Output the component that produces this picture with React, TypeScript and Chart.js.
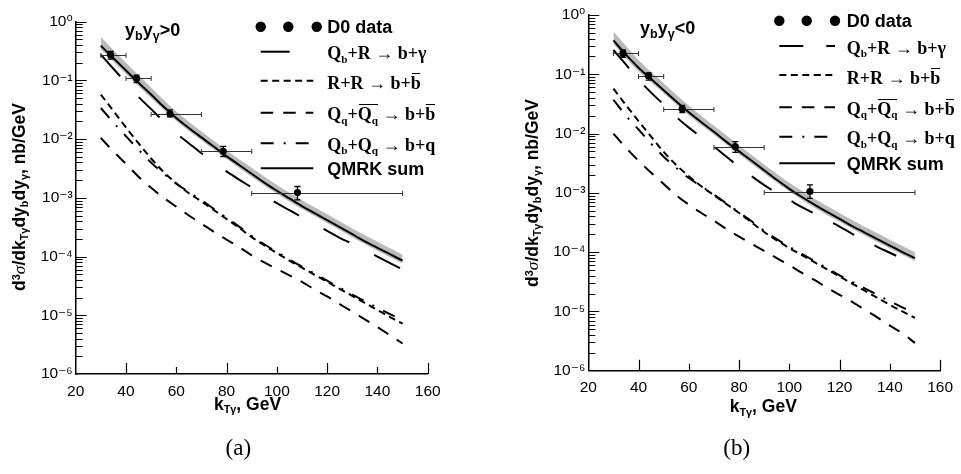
import React, { useEffect, useRef } from 'react';
import { Chart, registerables } from 'chart.js';

Chart.register(...registerables);

// ---------- shared axes ----------
const kGrid = [30, 35, 40, 45, 50, 55, 60, 65, 70, 75, 80, 85, 90, 95, 100, 105, 110, 115, 120, 125, 130, 135, 140, 145, 150];
const kBand = [30, 40, 50, 60, 70, 80, 90, 100, 110, 120, 130, 140, 150];
const xTickValues = [20, 40, 60, 80, 100, 120, 140, 160];
const xLongTicks = [40, 80, 120, 160];
const yDecades = [1e-6, 1e-5, 1e-4, 1e-3, 1e-2, 1e-1, 1];
const yTickLabels = ['10⁻⁶', '10⁻⁵', '10⁻⁴', '10⁻³', '10⁻²', '10⁻¹', '10⁰'];
const yMinorMultipliers = [2, 3, 4, 5, 6, 7, 8, 9];

// ---------- panel (a): y_b y_gamma > 0 ----------
const sumA = [0.389, 0.240, 0.148, 0.0912, 0.0575, 0.0355, 0.0229, 0.0155, 0.0107, 0.00741, 0.00513, 0.00363, 0.00257, 0.00182, 0.00132, 0.000977, 0.000724, 0.000550, 0.000417, 0.000316, 0.000240, 0.000182, 0.000141, 0.000110, 0.0000851];
const bandUpA = [0.550, 0.1995, 0.0759, 0.0295, 0.0135, 0.00646, 0.00324, 0.00166, 0.000912, 0.000525, 0.000302, 0.000178, 0.000107];
const bandLoA = [0.339, 0.129, 0.0501, 0.0204, 0.00955, 0.00457, 0.00229, 0.00117, 0.000646, 0.000372, 0.000214, 0.000126, 0.0000759];
const bgA = [0.275, 0.158, 0.0912, 0.0525, 0.0324, 0.0200, 0.0126, 0.00851, 0.00575, 0.00407, 0.00282, 0.00204, 0.00151, 0.00110, 0.000813, 0.000617, 0.000468, 0.000355, 0.000275, 0.000209, 0.000166, 0.000129, 0.000100, 0.0000776, 0.0000603];
const rrA = [0.0575, 0.0302, 0.0158, 0.00851, 0.00468, 0.00275, 0.00178, 0.00120, 0.000871, 0.000617, 0.000437, 0.000309, 0.000214, 0.000155, 0.000115, 0.0000851, 0.0000646, 0.0000490, 0.0000372, 0.0000282, 0.0000214, 0.0000162, 0.0000123, 0.00000933, 0.00000724];
const qqA = [0.0105, 0.00617, 0.00380, 0.00229, 0.00148, 0.00100, 0.000708, 0.000501, 0.000363, 0.000263, 0.000195, 0.000145, 0.000105, 0.0000794, 0.0000617, 0.0000479, 0.0000372, 0.0000275, 0.0000209, 0.0000155, 0.0000115, 0.00000851, 0.00000631, 0.00000457, 0.00000331];
const ddA = [0.0339, 0.0191, 0.0112, 0.00661, 0.00398, 0.00257, 0.00174, 0.00126, 0.000912, 0.000646, 0.000457, 0.000324, 0.000224, 0.000162, 0.000120, 0.0000891, 0.0000676, 0.0000513, 0.0000389, 0.0000295, 0.0000224, 0.0000174, 0.0000135, 0.0000105, 0.00000832];
const d0KA = [33.9, 44.2, 57.5, 78.7, 108.2];
const d0YA = [0.27, 0.108, 0.027, 0.0062, 0.00123];
const d0KLoA = [30, 40, 50, 70, 90];
const d0KHiA = [40, 50, 70, 90, 150];
const d0YLoA = [0.231, 0.092, 0.024, 0.00506, 0.000925];
const d0YHiA = [0.312, 0.123, 0.0316, 0.0075, 0.00156];

// ---------- panel (b): y_b y_gamma < 0 ----------
const sumB = [0.372, 0.214, 0.129, 0.0832, 0.0537, 0.0347, 0.0229, 0.0155, 0.0107, 0.00724, 0.00501, 0.00347, 0.00240, 0.00166, 0.00117, 0.000851, 0.000631, 0.000479, 0.000363, 0.000275, 0.000214, 0.000166, 0.000129, 0.000100, 0.0000794];
const bandUpB = [0.525, 0.174, 0.0708, 0.0295, 0.0135, 0.00631, 0.00302, 0.00148, 0.000794, 0.000457, 0.000269, 0.000162, 0.000100];
const bandLoB = [0.324, 0.112, 0.0479, 0.0204, 0.00955, 0.00447, 0.00214, 0.00105, 0.000562, 0.000324, 0.000191, 0.000115, 0.0000708];
const bgB = [0.257, 0.145, 0.0813, 0.0490, 0.0309, 0.0191, 0.0126, 0.00871, 0.00603, 0.00407, 0.00275, 0.00191, 0.00135, 0.00100, 0.000759, 0.000575, 0.000447, 0.000347, 0.000269, 0.000204, 0.000158, 0.000123, 0.0000977, 0.0000776, 0.0000617];
const rrB = [0.0575, 0.0302, 0.0162, 0.00891, 0.00490, 0.00295, 0.00191, 0.00129, 0.000912, 0.000646, 0.000457, 0.000316, 0.000219, 0.000158, 0.000117, 0.0000891, 0.0000676, 0.0000513, 0.0000389, 0.0000295, 0.0000224, 0.0000170, 0.0000129, 0.0000100, 0.00000776];
const qqB = [0.0100, 0.00575, 0.00347, 0.00219, 0.00141, 0.000912, 0.000631, 0.000457, 0.000339, 0.000245, 0.000182, 0.000138, 0.000105, 0.0000794, 0.0000603, 0.0000447, 0.0000339, 0.0000251, 0.0000191, 0.0000145, 0.0000107, 0.00000794, 0.00000575, 0.00000427, 0.00000295];
const ddB = [0.0372, 0.0200, 0.0117, 0.00676, 0.00407, 0.00263, 0.00178, 0.00129, 0.000933, 0.000661, 0.000468, 0.000331, 0.000229, 0.000166, 0.000123, 0.0000933, 0.0000708, 0.0000537, 0.0000407, 0.0000316, 0.0000245, 0.0000191, 0.0000148, 0.0000117, 0.00000933];
const d0KB = [33.8, 44.0, 57.4, 78.5, 108.2];
const d0YB = [0.225, 0.094, 0.026, 0.0060, 0.00105];
const d0KLoB = [30, 40, 50, 70, 90];
const d0KHiB = [40, 50, 70, 90, 150];
const d0YLoB = [0.193, 0.080, 0.0225, 0.0048, 0.00081];
const d0YHiB = [0.257, 0.106, 0.030, 0.0073, 0.00136];

const SANS = '"Liberation Sans", Arial, Helvetica, "DejaVu Sans", sans-serif';
const SERIF = '"Liberation Serif", "Times New Roman", Times, serif';

type PanelCfg = {
  left: number; width: number; padTop: number; padRight: number; yAxisWidth: number; xAxisHeight: number;
  sum: number[]; bandUp: number[]; bandLo: number[]; bg: number[]; rr: number[]; qq: number[]; dd: number[];
  dK: number[]; dY: number[]; dKLo: number[]; dKHi: number[]; dYLo: number[]; dYHi: number[];
  bgDash: number[];
};

const cfgA: PanelCfg = {
  left: 0, width: 480, padTop: 21.7, padRight: 52.3, yAxisWidth: 75.7, xAxisHeight: 100,
  sum: sumA, bandUp: bandUpA, bandLo: bandLoA, bg: bgA, rr: rrA, qq: qqA, dd: ddA,
  dK: d0KA, dY: d0YA, dKLo: d0KLoA, dKHi: d0KHiA, dYLo: d0YLoA, dYHi: d0YHiA,
  bgDash: [29, 28],
};
const cfgB: PanelCfg = {
  left: 480, width: 481, padTop: 15, padRight: 17, yAxisWidth: 108.3, xAxisHeight: 103.3,
  sum: sumB, bandUp: bandUpB, bandLo: bandLoB, bg: bgB, rr: rrB, qq: qqB, dd: ddB,
  dK: d0KB, dY: d0YB, dKLo: d0KLoB, dKHi: d0KHiB, dYLo: d0YLoB, dYHi: d0YHiB,
  bgDash: [24, 23],
};

const RR_DASH = [7, 4.5];
const QQ_DASH = [12.5, 10];
const DD_DASH = [13, 10, 2, 10];

function Panel({ cfg }: { cfg: PanelCfg }) {
  const ref = useRef<HTMLCanvasElement>(null);
  useEffect(() => {
    const canvas = ref.current as HTMLCanvasElement;
    const pts = (xs: number[], ys: number[]) => xs.map((x, i) => ({ x, y: ys[i] }));
    const line = (data: any, dash: number[], extra: any = {}) => ({
      type: 'line', data, borderColor: '#000', borderWidth: 2, borderDash: dash, pointRadius: 0,
      fill: false, cubicInterpolationMode: 'monotone', order: 2, ...extra,
    });
    const POINTS_INDEX = 7;
    const errorBars = {
      id: 'errorBars',
      beforeDatasetDraw(chart: any, args: any) {
        if (args.index !== POINTS_INDEX) return;
        const { ctx, scales: { x, y } } = chart;
        ctx.save();
        cfg.dK.forEach((k, i) => {
          const px = x.getPixelForValue(k);
          const py = Math.round(y.getPixelForValue(cfg.dY[i])) + 0.5;
          const x0 = x.getPixelForValue(cfg.dKLo[i]);
          const x1 = x.getPixelForValue(cfg.dKHi[i]);
          const y0 = y.getPixelForValue(cfg.dYLo[i]);
          const y1 = y.getPixelForValue(cfg.dYHi[i]);
          ctx.lineWidth = 1;
          ctx.strokeStyle = '#333';
          ctx.beginPath();
          ctx.moveTo(x0, py); ctx.lineTo(x1, py);
          ctx.moveTo(x0, py - 2.5); ctx.lineTo(x0, py + 2.5);
          ctx.moveTo(x1, py - 2.5); ctx.lineTo(x1, py + 2.5);
          ctx.stroke();
          ctx.strokeStyle = '#000';
          ctx.lineWidth = 1.3;
          ctx.beginPath();
          ctx.moveTo(px, y0); ctx.lineTo(px, y1);
          ctx.moveTo(px - 3, y0); ctx.lineTo(px + 3, y0);
          ctx.moveTo(px - 3, y1); ctx.lineTo(px + 3, y1);
          ctx.stroke();
        });
        ctx.restore();
      },
    };
    const inwardTicks = {
      id: 'inwardTicks',
      afterDraw(chart: any) {
        const { ctx, chartArea, scales: { x, y } } = chart;
        ctx.save();
        ctx.strokeStyle = '#000';
        ctx.lineWidth = 1.2;
        ctx.beginPath();
        xTickValues.forEach((v) => {
          if (v === 20) return;
          const px = Math.round(x.getPixelForValue(v)) + 0.5;
          const len = xLongTicks.includes(v) ? 11 : 7;
          ctx.moveTo(px, chartArea.bottom);
          ctx.lineTo(px, chartArea.bottom - len);
        });
        yDecades.forEach((d) => {
          const py = Math.round(y.getPixelForValue(d)) + 0.5;
          if (d !== 1e-6) {
            ctx.moveTo(chartArea.left, py);
            ctx.lineTo(chartArea.left + 11, py);
          }
          if (d < 1) {
            yMinorMultipliers.forEach((m) => {
              const pm = Math.round(y.getPixelForValue(d * m)) + 0.5;
              ctx.moveTo(chartArea.left, pm);
              ctx.lineTo(chartArea.left + 7, pm);
            });
          }
        });
        ctx.stroke();
        ctx.restore();
      },
    };
    const chart = new Chart(canvas, {
      type: 'line',
      data: {
        datasets: [
          { type: 'line', data: pts(kBand, cfg.bandUp), borderWidth: 0, borderColor: 'rgba(0,0,0,0)', backgroundColor: '#bababa', pointRadius: 0, fill: '+1', cubicInterpolationMode: 'monotone', order: 10 } as any,
          { type: 'line', data: pts(kBand, cfg.bandLo), borderWidth: 0, borderColor: 'rgba(0,0,0,0)', pointRadius: 0, fill: false, cubicInterpolationMode: 'monotone', order: 11 } as any,
          line(pts(kGrid, cfg.sum), [], { order: 1 }),
          line(pts(kGrid, cfg.bg), cfg.bgDash),
          line(pts(kGrid, cfg.rr), RR_DASH),
          line(pts(kGrid, cfg.qq), QQ_DASH),
          line(pts(kGrid, cfg.dd), DD_DASH),
          { type: 'line', data: pts(cfg.dK, cfg.dY), showLine: false, pointRadius: 3.6, pointBackgroundColor: '#000', pointBorderColor: '#000', pointBorderWidth: 0, order: 0 } as any,
        ],
      },
      options: {
        animation: false,
        responsive: false,
        maintainAspectRatio: false,
        layout: { padding: { left: 0, top: cfg.padTop, right: cfg.padRight, bottom: 0 } },
        plugins: { legend: { display: false }, tooltip: { enabled: false }, title: { display: false } },
        scales: {
          x: {
            type: 'linear', min: 20, max: 160,
            afterFit: (s: any) => { s.height = cfg.xAxisHeight; },
            afterBuildTicks: (s: any) => { s.ticks = xTickValues.map((v) => ({ value: v })); },
            grid: { display: false, drawTicks: false },
            border: { display: true, color: '#000', width: 1.5 },
            ticks: { autoSkip: false, maxRotation: 0, padding: 8, color: '#000', font: { family: SANS, size: 15.5 } },
          },
          y: {
            type: 'logarithmic', min: 1e-6, max: 1,
            afterFit: (s: any) => { s.width = cfg.yAxisWidth; },
            afterBuildTicks: (s: any) => { s.ticks = yDecades.map((v) => ({ value: v })); },
            grid: { display: false, drawTicks: false },
            border: { display: true, color: '#000', width: 1.5 },
            ticks: {
              autoSkip: false, padding: 3, color: '#000', font: { family: SANS, size: 15.5 },
              callback: (value: any) => {
                const i = yDecades.findIndex((d) => Math.abs(Math.log10(d) - Math.log10(Number(value))) < 1e-6);
                return i >= 0 ? yTickLabels[i] : '';
              },
            },
          },
        },
      } as any,
      plugins: [errorBars, inwardTicks],
    });
    return () => chart.destroy();
  }, [cfg]);
  return (
    <canvas ref={ref} width={cfg.width} height={474}
      style={{ position: 'absolute', left: cfg.left, top: 0, width: cfg.width, height: 474 }} />
  );
}

const subS: React.CSSProperties = { fontSize: '0.62em', position: 'relative', top: '0.3em' };
const supS: React.CSSProperties = { fontSize: '0.62em', position: 'relative', top: '-0.5em' };

function Ov({ children }: any) {
  return (
    <span style={{ position: 'relative', display: 'inline-block' }}>
      {children}
      <span style={{ position: 'absolute', left: '0.06em', right: '0.02em', top: '-0.04em', height: 0, borderTop: '1.6px solid #000' }} />
    </span>
  );
}

function Txt({ x, y, children, center, style }: any) {
  return (
    <div style={{
      position: 'absolute', left: x, top: y, whiteSpace: 'nowrap', lineHeight: 1,
      transform: center ? 'translate(-50%,-50%)' : 'translateY(-50%)', ...style,
    }}>{children}</div>
  );
}

const sansBold: React.CSSProperties = { fontFamily: SANS, fontWeight: 'bold', fontSize: 17.5, color: '#000' };
const legSans: React.CSSProperties = { fontFamily: SANS, fontWeight: 'bold', fontSize: 18, color: '#000' };
const serifBold: React.CSSProperties = { fontFamily: SERIF, fontWeight: 'bold', fontSize: 18, color: '#000' };

type LegendPos = { dotsX: number[]; dotY: number; sx0: number; sx1: number; tx: number; rows: number[]; bgDash: number[] };
const legA: LegendPos = { dotsX: [260.7, 288.3, 316.7], dotY: 26.7, sx0: 260.7, sx1: 313.3, tx: 327.3, rows: [51.7, 80.7, 112.7, 143.3, 168.3], bgDash: [29, 28] };
const legB: LegendPos = { dotsX: [779.3, 806.7, 835], dotY: 20.7, sx0: 779.3, sx1: 835, tx: 846.7, rows: [46, 75, 107.3, 136.7, 163.3], bgDash: [24, 23] };

function LegendText({ l }: { l: LegendPos }) {
  return (
    <>
      <Txt x={l.tx} y={l.dotY + 0.5} style={legSans}>D0 data</Txt>
      <Txt x={l.tx} y={l.rows[0] + 1.5} style={serifBold}>Q<span style={subS}>b</span>+R → b+γ</Txt>
      <Txt x={l.tx} y={l.rows[1] + 2.5} style={serifBold}>R+R → b+<Ov>b</Ov></Txt>
      <Txt x={l.tx} y={l.rows[2] + 1.5} style={serifBold}>Q<span style={subS}>q</span>+<Ov>Q<span style={subS}>q</span></Ov> → b+<Ov>b</Ov></Txt>
      <Txt x={l.tx} y={l.rows[3] + 1.5} style={serifBold}>Q<span style={subS}>b</span>+Q<span style={subS}>q</span> → b+q</Txt>
      <Txt x={l.tx} y={l.rows[4] + 0.5} style={legSans}>QMRK sum</Txt>
    </>
  );
}

function LegendMarks({ l }: { l: LegendPos }) {
  const dashes = [l.bgDash, RR_DASH, QQ_DASH, DD_DASH, []];
  return (
    <g>
      {l.dotsX.map((x, i) => <circle key={i} cx={x} cy={l.dotY} r={5.2} fill="#000" />)}
      {l.rows.map((y, i) => (
        <line key={i} x1={l.sx0} y1={y} x2={l.sx1} y2={y} stroke="#000" strokeWidth={2}
          strokeDasharray={dashes[i].length ? dashes[i].join(' ') : undefined} />
      ))}
    </g>
  );
}

function YTitle({ x, y }: { x: number; y: number }) {
  return (
    <div style={{
      position: 'absolute', left: x, top: y, whiteSpace: 'nowrap', lineHeight: 1,
      transform: 'translate(-50%,-50%) rotate(-90deg)', ...sansBold,
    }}>
      d<span style={supS}>3</span><span style={{ fontFamily: SERIF, fontStyle: 'italic', fontWeight: 'normal' }}>σ</span>/dk<span style={subS}>Tγ</span>dy<span style={subS}>b</span>dy<span style={subS}>γ</span>, nb/GeV
    </div>
  );
}

const panelSub: React.CSSProperties = { fontSize: '0.7em', position: 'relative', top: '0.3em' };

export default function App() {
  return (
    <div style={{ position: 'fixed', left: 0, top: 0, width: 961, height: 474, background: '#fff', overflow: 'hidden' }}>
      <Panel cfg={cfgA} />
      <Panel cfg={cfgB} />
      <svg width={961} height={474} style={{ position: 'absolute', left: 0, top: 0, pointerEvents: 'none' }}>
        <LegendMarks l={legA} />
        <LegendMarks l={legB} />
      </svg>
      <LegendText l={legA} />
      <LegendText l={legB} />
      <Txt x={125} y={30} style={legSans}>y<span style={panelSub}>b</span>y<span style={panelSub}>γ</span>&gt;0</Txt>
      <Txt x={640} y={28.3} style={legSans}>y<span style={panelSub}>b</span>y<span style={panelSub}>γ</span>&lt;0</Txt>
      <YTitle x={20} y={196.7} />
      <YTitle x={533.3} y={193} />
      <Txt x={247.5} y={405} center style={sansBold}>k<span style={subS}>Tγ</span>, GeV</Txt>
      <Txt x={763.3} y={407.3} center style={sansBold}>k<span style={subS}>Tγ</span>, GeV</Txt>
      <Txt x={238.3} y={447} center style={{ fontFamily: SERIF, fontSize: 23, color: '#000' }}>(a)</Txt>
      <Txt x={736.7} y={446.7} center style={{ fontFamily: SERIF, fontSize: 23, color: '#000' }}>(b)</Txt>
    </div>
  );
}
